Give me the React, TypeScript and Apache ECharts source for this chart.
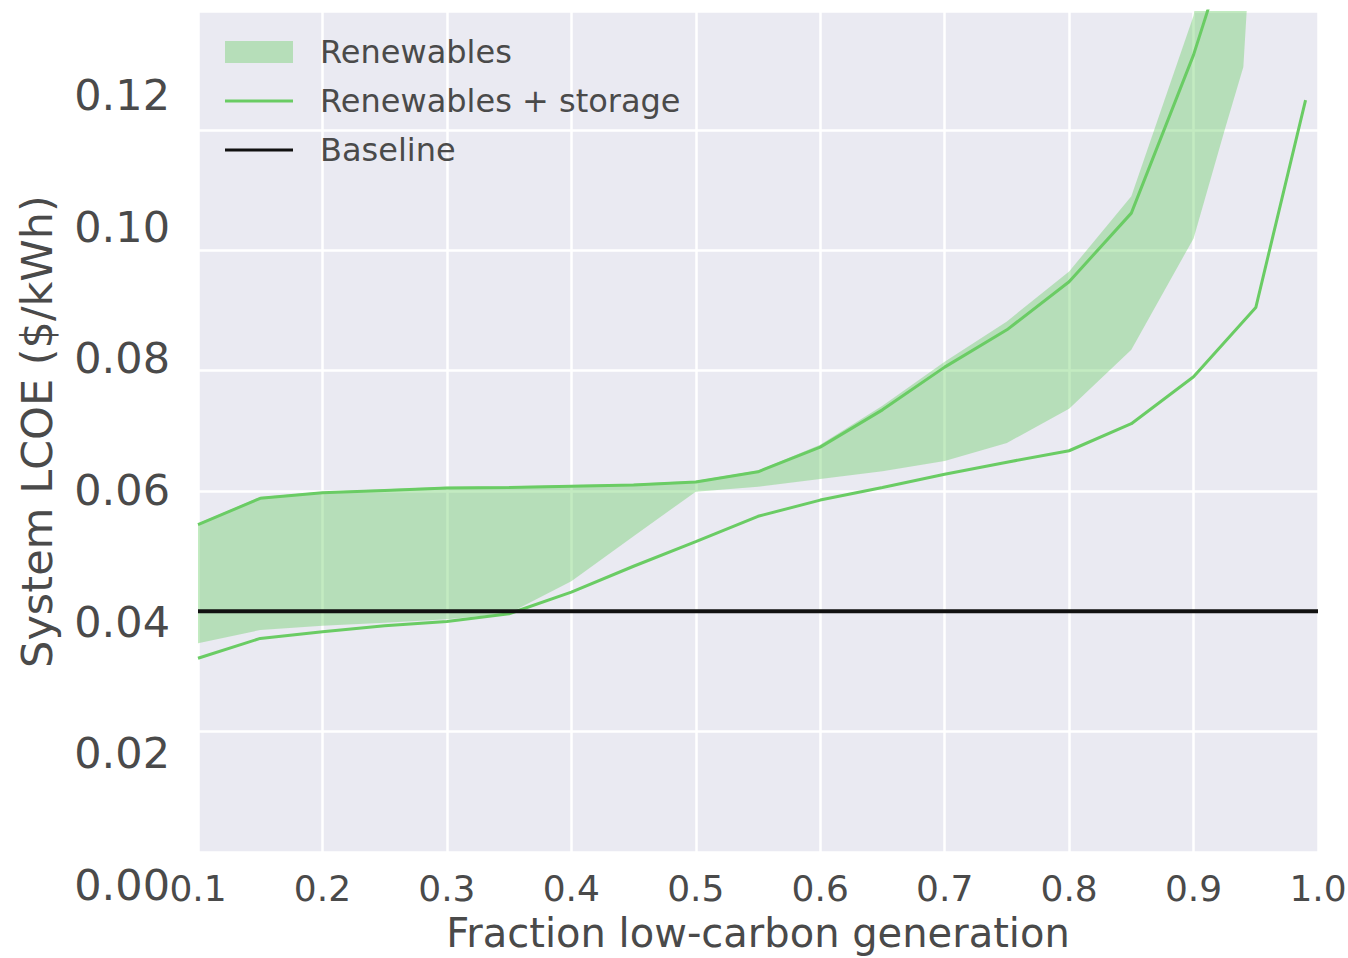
import React, { useEffect, useRef } from "react";
import * as echarts from "echarts";

// x positions of the storage curves
const lineX = [0.1, 0.15, 0.2, 0.25, 0.3, 0.35, 0.4, 0.45, 0.5, 0.55, 0.6, 0.65, 0.7, 0.75, 0.8, 0.85, 0.9, 0.95];
// upper "Renewables + storage" curve
const upperStorage = [0.0544, 0.0588, 0.0597, 0.0601, 0.0605, 0.0606, 0.0608, 0.061, 0.0615, 0.0632, 0.0673, 0.0735, 0.0806, 0.0868, 0.0948, 0.1062, 0.1325, 0.165];
// lower "Renewables + storage" curve
const lowerX = [0.1, 0.15, 0.2, 0.25, 0.3, 0.35, 0.4, 0.45, 0.5, 0.55, 0.6, 0.65, 0.7, 0.75, 0.8, 0.85, 0.9, 0.95, 0.99];
const lowerStorage = [0.0322, 0.0355, 0.0366, 0.0376, 0.0383, 0.0396, 0.0432, 0.0475, 0.0516, 0.0558, 0.0585, 0.0606, 0.0628, 0.0648, 0.0667, 0.0712, 0.079, 0.0905, 0.125];
// "Renewables" band
const bandX = [0.1, 0.15, 0.2, 0.25, 0.3, 0.35, 0.4, 0.45, 0.5, 0.55, 0.6, 0.65, 0.7, 0.75, 0.8, 0.85, 0.9, 0.925, 0.94, 0.95];
const bandLow = [0.0347, 0.0369, 0.0376, 0.0381, 0.0387, 0.0397, 0.045, 0.0525, 0.0599, 0.0607, 0.062, 0.0633, 0.065, 0.068, 0.0737, 0.0835, 0.102, 0.12, 0.1305, 0.165];
const bandHigh = [0.0546, 0.059, 0.0599, 0.0603, 0.0607, 0.0608, 0.061, 0.0612, 0.0617, 0.0634, 0.0677, 0.0742, 0.0815, 0.0882, 0.0965, 0.109, 0.139, 0.17, 0.19, 0.2];
// baseline
const baselineX = [0.1, 1.0];
const baselineY = [0.04, 0.04];
// tick labels
const xTickLabels = ["0.1", "0.2", "0.3", "0.4", "0.5", "0.6", "0.7", "0.8", "0.9", "1.0"];
const yTickLabels = ["0.00", "0.02", "0.04", "0.06", "0.08", "0.10", "0.12"];

const FONT = "DejaVu Sans";
const TEXT = "#4a4a4a";
const GREEN = "#6ACC64";
const BAND = "rgba(106,204,100,0.4)";
const LINE_ICON = "path://M0 0H68V3H0Z";

export default function App() {
  const ref = useRef<HTMLDivElement>(null);
  useEffect(() => {
    if (!ref.current) return;
    const chart = echarts.init(ref.current, undefined, { renderer: "svg" });
    const option: any = {
      animation: false,
      backgroundColor: "#ffffff",
      grid: [
        { left: 198, top: 11, width: 1120, height: 841, show: true, backgroundColor: "#EAEAF2", borderWidth: 0, containLabel: false, outerBoundsMode: "none" },
        { left: 198, top: 95, width: 1120, height: 790, show: false, containLabel: false, outerBoundsMode: "none" },
      ],
      xAxis: [
        {
          type: "value", gridIndex: 0, min: 0.1, max: 1.0, interval: 0.1,
          axisLine: { show: false }, axisTick: { show: false },
          splitLine: { show: true, lineStyle: { color: "#ffffff", width: 2.5 } },
          axisLabel: {
            margin: 18, fontSize: 36, fontFamily: FONT, color: TEXT,
            formatter: (v: number) => xTickLabels[Math.round((v - 0.1) * 10)] ?? v.toFixed(1),
          },
          name: "Fraction low-carbon generation", nameLocation: "middle", nameGap: 61,
          nameTextStyle: { fontSize: 40, fontFamily: FONT, color: TEXT },
        },
        { type: "value", gridIndex: 1, min: 0, max: 1, show: false },
      ],
      yAxis: [
        {
          type: "value", gridIndex: 0, min: 0, max: 0.1398, interval: 0.02,
          axisLine: { show: false }, axisTick: { show: false },
          splitLine: { show: true, lineStyle: { color: "#ffffff", width: 2.5 } },
          axisLabel: { show: false },
          name: "System LCOE ($/kWh)", nameLocation: "middle", nameGap: 140, nameRotate: 90,
          nameTextStyle: { fontSize: 43, fontFamily: FONT, color: TEXT },
        },
        {
          type: "value", gridIndex: 1, min: 0, max: 0.12, interval: 0.02,
          axisLine: { show: false }, axisTick: { show: false }, splitLine: { show: false },
          axisLabel: {
            margin: 28, fontSize: 43, fontFamily: FONT, color: TEXT,
            formatter: (v: number) => yTickLabels[Math.round(v / 0.02)] ?? v.toFixed(2),
          },
        },
      ],
      legend: {
        orient: "vertical", left: 225, top: 36, padding: 0, itemWidth: 68, itemHeight: 22, itemGap: 17,
        selectedMode: false,
        textStyle: { fontSize: 32, fontFamily: FONT, color: TEXT, padding: [0, 0, 0, 22] },
        data: [
          { name: "Renewables", icon: "rect", itemStyle: { color: BAND, borderWidth: 0 } },
          { name: "Renewables + storage", icon: LINE_ICON, itemStyle: { color: GREEN, borderWidth: 0 } },
          { name: "Baseline", icon: LINE_ICON, itemStyle: { color: "#111111", borderWidth: 0 } },
        ],
      },
      series: [
        {
          type: "custom", name: "Renewables", xAxisIndex: 0, yAxisIndex: 0, clip: true, z: 1,
          itemStyle: { color: BAND },
          data: bandX.map((x, i) => [x, bandLow[i], bandHigh[i]]),
          encode: { x: 0, y: [1, 2] },
          renderItem: (params: any, api: any) => {
            if (params.dataIndex !== 0) return null;
            const pts: number[][] = [];
            for (let i = 0; i < bandX.length; i++) pts.push(api.coord([bandX[i], bandHigh[i]]));
            for (let i = bandX.length - 1; i >= 0; i--) pts.push(api.coord([bandX[i], bandLow[i]]));
            const cs = params.coordSys;
            return {
              type: "polygon", silent: true,
              shape: { points: pts },
              style: { fill: BAND },
              clipPath: { type: "rect", shape: { x: cs.x, y: cs.y, width: cs.width, height: cs.height } },
            };
          },
        },
        {
          type: "line", name: "Renewables + storage", xAxisIndex: 0, yAxisIndex: 0, z: 3,
          symbol: "none", data: lineX.map((x, i) => [x, upperStorage[i]]),
          lineStyle: { color: GREEN, width: 3 }, itemStyle: { color: GREEN },
        },
        {
          type: "line", name: "Renewables + storage", xAxisIndex: 0, yAxisIndex: 0, z: 3,
          symbol: "none", data: lowerX.map((x, i) => [x, lowerStorage[i]]),
          lineStyle: { color: GREEN, width: 3 }, itemStyle: { color: GREEN },
        },
        {
          type: "line", name: "Baseline", xAxisIndex: 0, yAxisIndex: 0, z: 4,
          symbol: "none", data: baselineX.map((x, i) => [x, baselineY[i]]),
          lineStyle: { color: "#111111", width: 4 },
          itemStyle: { color: "#111111" },
        },
      ],
    };
    chart.setOption(option);
    return () => chart.dispose();
  }, []);
  return <div ref={ref} style={{ position: "absolute", left: 0, top: 0, width: 1348, height: 958 }} />;
}
